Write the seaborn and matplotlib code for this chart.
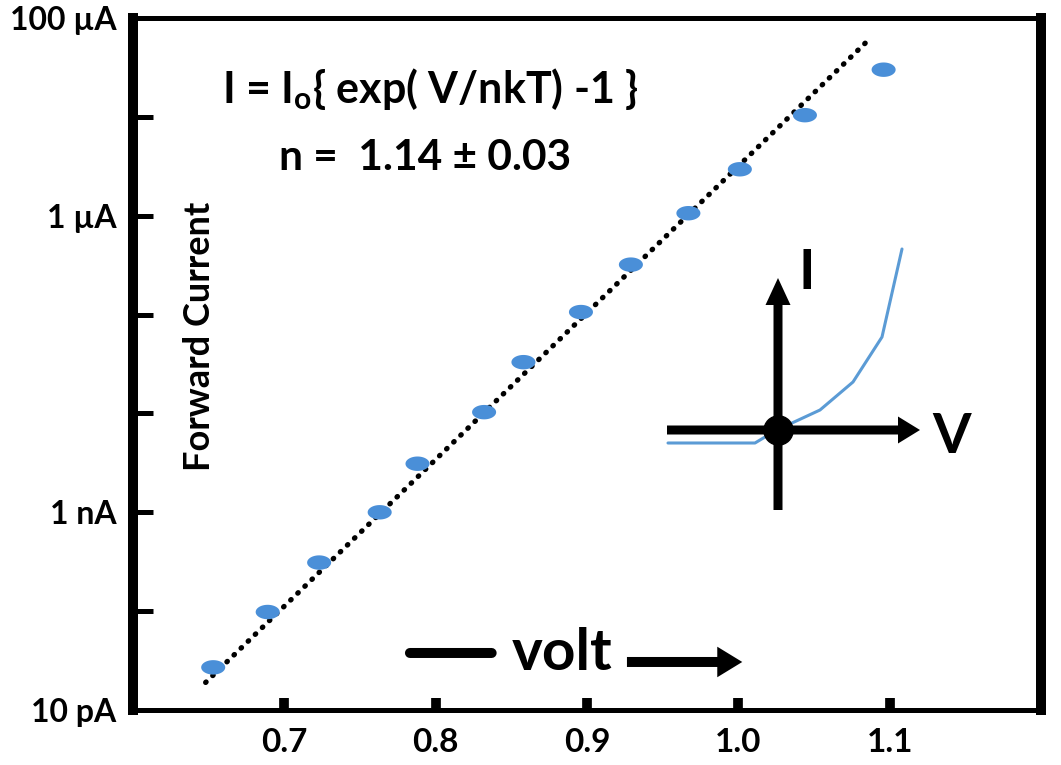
import numpy as np
import matplotlib
matplotlib.use("Agg")
import matplotlib.pyplot as plt
import seaborn as sns
from matplotlib.ticker import FixedLocator, FixedFormatter, NullLocator

# Forward-bias diode measurements (volts, amperes)
voltage = [0.653, 0.689, 0.723, 0.763, 0.788, 0.832, 0.858, 0.896, 0.929, 0.967, 1.001, 1.044, 1.096]
current = [2.7e-11, 9.8e-11, 3.1e-10, 1.0e-9, 3.1e-9, 1.03e-8, 3.3e-8, 1.06e-7,
           3.2e-7, 1.06e-6, 2.95e-6, 1.04e-5, 3.0e-5]

# Ideal-diode fit (n = 1.14) end points
fit_voltage = [0.648, 1.087]
fit_current = [1.9e-11, 6.2e-5]

x_ticks = [0.7, 0.8, 0.9, 1.0, 1.1]
x_tick_labels = ["0.7", "0.8", "0.9", "1.0", "1.1"]
y_ticks = [1e-11, 1e-10, 1e-9, 1e-8, 1e-7, 1e-6, 1e-5, 1e-4]
y_tick_labels = ["10 pA", "", "1 nA", "", "", "1 µA", "", "100 µA"]

# Schematic I-V characteristic for the inset sketch
sketch_v = [-1.10, -0.23, -0.13, 0.14, 0.42, 0.75, 1.04, 1.24]
sketch_i = [-0.13, -0.13, -0.07, 0.07, 0.20, 0.48, 0.93, 1.81]

sns.set_theme(style="white")
plt.rcParams["font.family"] = ["Lato", "DejaVu Sans"]
plt.rcParams["font.weight"] = "bold"
plt.rcParams["mathtext.fontset"] = "custom"
plt.rcParams["mathtext.rm"] = "Lato:bold"
plt.rcParams["mathtext.it"] = "Lato:bold"
plt.rcParams["mathtext.bf"] = "Lato:bold"

fig = plt.figure(figsize=(10.61, 7.65), dpi=100, facecolor="white")
ax = fig.add_axes([133 / 1061, 1 - 710 / 765, 908 / 1061, 692 / 765])
ax.set_yscale("log")

# Fit line (dotted)
sns.lineplot(x=fit_voltage, y=fit_current, ax=ax, color="black", sort=False,
             estimator=None, linewidth=3.8, zorder=2)
fit_line = ax.lines[-1]
fit_line.set_linestyle((0, (0.12, 1.75)))
fit_line.set_dash_capstyle("round")

# Measured points as flat ellipses
t = np.linspace(0, 2 * np.pi, 60)
ellipse = np.column_stack([np.cos(t), 0.6 * np.sin(t)])
sns.scatterplot(x=voltage, y=current, ax=ax, marker=ellipse, s=300,
                color="#4A8FD8", edgecolor="none", linewidth=0, zorder=3)

ax.set_xlim(0.6, 1.2)
ax.set_ylim(1e-11, 1e-4)

ax.xaxis.set_major_locator(FixedLocator(x_ticks))
ax.xaxis.set_major_formatter(FixedFormatter(x_tick_labels))
ax.yaxis.set_major_locator(FixedLocator(y_ticks))
ax.yaxis.set_major_formatter(FixedFormatter(y_tick_labels))
ax.yaxis.set_minor_locator(NullLocator())
ax.xaxis.set_minor_locator(NullLocator())

ax.tick_params(axis="y", which="major", direction="in", length=14.5, width=3.6,
               color="black", pad=12, labelsize=23, left=True)
ax.tick_params(axis="x", which="major", direction="in", length=9, width=7,
               color="black", pad=13, labelsize=24, bottom=True)
for lab in ax.get_xticklabels() + ax.get_yticklabels():
    lab.set_fontweight("bold")
    lab.set_color("black")

for side, lw in {"left": 7.2, "right": 7.2, "top": 3.6, "bottom": 3.6}.items():
    ax.spines[side].set_visible(True)
    ax.spines[side].set_linewidth(lw)
    ax.spines[side].set_color("black")
    ax.spines[side].set_capstyle("projecting")

ax.set_xlabel("")
ax.set_ylabel("")

# Annotations
ax.text(0.327, 0.897, "I = I$_{o}${ exp( V/nkT) -1 }", transform=ax.transAxes,
        ha="center", va="center", fontsize=31, fontweight="bold", color="black")
ax.text(0.3216, 0.798, "n =  1.14 ± 0.03", transform=ax.transAxes,
        ha="center", va="center", fontsize=30.5, fontweight="bold", color="black")
ax.text(0.0727, 0.540, "Forward Current", transform=ax.transAxes, rotation=90,
        ha="center", va="center", fontsize=26, fontweight="bold", color="black")

ax.text(0.4725, 0.0578, "volt", transform=ax.transAxes, ha="center", va="baseline",
        fontsize=42, fontweight="bold", color="black")
ax.annotate("", xy=(0.395, 0.0824), xytext=(0.305, 0.0824),
            xycoords="axes fraction", textcoords="axes fraction",
            arrowprops=dict(arrowstyle="-", lw=7.2, color="black",
                            shrinkA=0, shrinkB=0))
ax.annotate("", xy=(0.671, 0.0694), xytext=(0.544, 0.0694),
            xycoords="axes fraction", textcoords="axes fraction",
            arrowprops=dict(arrowstyle="simple,head_length=1.8,head_width=2.2,tail_width=0.72",
                            mutation_scale=10, lw=0, color="black",
                            shrinkA=0, shrinkB=0))

# Inset: schematic diode I-V curve
inset = fig.add_axes([640 / 1061, 1 - 530 / 765, 340 / 1061, 300 / 765])
inset.set_xlim(-1.38, 2.02)
inset.set_ylim(-1.0, 2.0)
inset.axis("off")
sns.lineplot(x=sketch_v, y=sketch_i, ax=inset, sort=False, estimator=None,
             color="#5B9BD5", linewidth=2.2, zorder=1)
inset.arrow(-1.11, 0.0, 2.53, 0.0, width=0.09, head_width=0.27, head_length=0.22,
            length_includes_head=True, color="black", lw=0, zorder=2)
inset.arrow(0.0, -0.80, 0.0, 2.32, width=0.09, head_width=0.25, head_length=0.27,
            length_includes_head=True, color="black", lw=0, zorder=2)
inset.plot([0.0], [0.0], marker="o", markersize=21, color="black", zorder=3)
inset.text(0.29, 1.57, "I", ha="center", va="center", fontsize=40,
           fontweight="bold", color="black")
inset.text(1.74, -0.07, "V", ha="center", va="center", fontsize=40,
           fontweight="bold", color="black")
if inset.get_legend() is not None:
    inset.get_legend().remove()

fig.savefig("out.png", dpi=100, facecolor="white")
